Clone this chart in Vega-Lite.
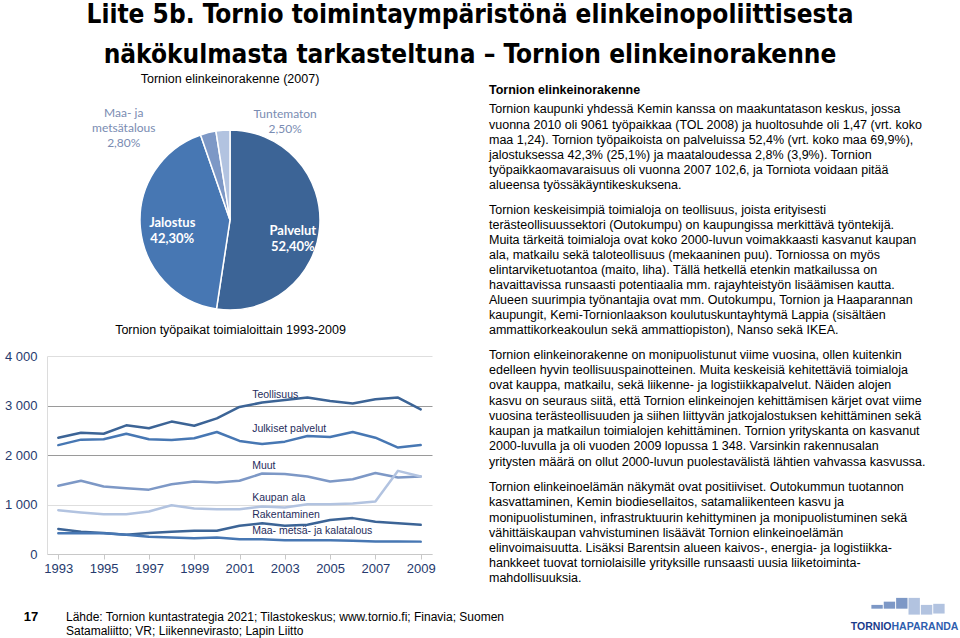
{
  "$schema": "https://vega.github.io/schema/vega-lite/v6.json",
  "padding": 0,
  "background": "white",
  "config": {
    "view": {"stroke": null},
    "font": "Liberation Sans",
    "text": {"font": "Liberation Sans", "color": "black"},
    "title": {"font": "Liberation Sans", "fontWeight": "normal", "color": "black", "subtitleFont": "Liberation Sans", "subtitleColor": "black"}
  },
  "datasets": {
    "title": [
      {"line": 0, "text": "Liite 5b. Tornio toimintaympäristönä elinkeinopoliittisesta"},
      {"line": 1, "text": "näkökulmasta tarkasteltuna – Tornion elinkeinorakenne"}
    ],
    "pie": [
      {"sector": "Palvelut", "share": 52.4, "ord": 1, "label": "Palvelut\n52,40%"},
      {"sector": "Jalostus", "share": 42.3, "ord": 2, "label": "Jalostus\n42,30%"},
      {"sector": "Maa- ja metsätalous", "share": 2.8, "ord": 3, "label": "Maa- ja\nmetsätalous\n2,80%"},
      {"sector": "Tuntematon", "share": 2.5, "ord": 4, "label": "Tuntematon\n2,50%"}
    ],
    "jobs": [
      {"series": "Teollisuus", "year": 1993, "value": 2350},
      {"series": "Teollisuus", "year": 1994, "value": 2450},
      {"series": "Teollisuus", "year": 1995, "value": 2430},
      {"series": "Teollisuus", "year": 1996, "value": 2600},
      {"series": "Teollisuus", "year": 1997, "value": 2540},
      {"series": "Teollisuus", "year": 1998, "value": 2675},
      {"series": "Teollisuus", "year": 1999, "value": 2590},
      {"series": "Teollisuus", "year": 2000, "value": 2740},
      {"series": "Teollisuus", "year": 2001, "value": 2970},
      {"series": "Teollisuus", "year": 2002, "value": 3060},
      {"series": "Teollisuus", "year": 2003, "value": 3110},
      {"series": "Teollisuus", "year": 2004, "value": 3160},
      {"series": "Teollisuus", "year": 2005, "value": 3090},
      {"series": "Teollisuus", "year": 2006, "value": 3040},
      {"series": "Teollisuus", "year": 2007, "value": 3125},
      {"series": "Teollisuus", "year": 2008, "value": 3160},
      {"series": "Teollisuus", "year": 2009, "value": 2920},
      {"series": "Julkiset palvelut", "year": 1993, "value": 2200},
      {"series": "Julkiset palvelut", "year": 1994, "value": 2310},
      {"series": "Julkiset palvelut", "year": 1995, "value": 2320},
      {"series": "Julkiset palvelut", "year": 1996, "value": 2430},
      {"series": "Julkiset palvelut", "year": 1997, "value": 2320},
      {"series": "Julkiset palvelut", "year": 1998, "value": 2305},
      {"series": "Julkiset palvelut", "year": 1999, "value": 2340},
      {"series": "Julkiset palvelut", "year": 2000, "value": 2465},
      {"series": "Julkiset palvelut", "year": 2001, "value": 2285},
      {"series": "Julkiset palvelut", "year": 2002, "value": 2220},
      {"series": "Julkiset palvelut", "year": 2003, "value": 2270},
      {"series": "Julkiset palvelut", "year": 2004, "value": 2385},
      {"series": "Julkiset palvelut", "year": 2005, "value": 2365},
      {"series": "Julkiset palvelut", "year": 2006, "value": 2465},
      {"series": "Julkiset palvelut", "year": 2007, "value": 2350},
      {"series": "Julkiset palvelut", "year": 2008, "value": 2150},
      {"series": "Julkiset palvelut", "year": 2009, "value": 2200},
      {"series": "Muut", "year": 1993, "value": 1380},
      {"series": "Muut", "year": 1994, "value": 1480},
      {"series": "Muut", "year": 1995, "value": 1365},
      {"series": "Muut", "year": 1996, "value": 1330},
      {"series": "Muut", "year": 1997, "value": 1300},
      {"series": "Muut", "year": 1998, "value": 1410},
      {"series": "Muut", "year": 1999, "value": 1465},
      {"series": "Muut", "year": 2000, "value": 1445},
      {"series": "Muut", "year": 2001, "value": 1480},
      {"series": "Muut", "year": 2002, "value": 1625},
      {"series": "Muut", "year": 2003, "value": 1615},
      {"series": "Muut", "year": 2004, "value": 1565},
      {"series": "Muut", "year": 2005, "value": 1465},
      {"series": "Muut", "year": 2006, "value": 1510},
      {"series": "Muut", "year": 2007, "value": 1635},
      {"series": "Muut", "year": 2008, "value": 1545},
      {"series": "Muut", "year": 2009, "value": 1565},
      {"series": "Kaupan ala", "year": 1993, "value": 885},
      {"series": "Kaupan ala", "year": 1994, "value": 840},
      {"series": "Kaupan ala", "year": 1995, "value": 805},
      {"series": "Kaupan ala", "year": 1996, "value": 805},
      {"series": "Kaupan ala", "year": 1997, "value": 860},
      {"series": "Kaupan ala", "year": 1998, "value": 985},
      {"series": "Kaupan ala", "year": 1999, "value": 920},
      {"series": "Kaupan ala", "year": 2000, "value": 905},
      {"series": "Kaupan ala", "year": 2001, "value": 905},
      {"series": "Kaupan ala", "year": 2002, "value": 960},
      {"series": "Kaupan ala", "year": 2003, "value": 940},
      {"series": "Kaupan ala", "year": 2004, "value": 1005},
      {"series": "Kaupan ala", "year": 2005, "value": 1005},
      {"series": "Kaupan ala", "year": 2006, "value": 1020},
      {"series": "Kaupan ala", "year": 2007, "value": 1060},
      {"series": "Kaupan ala", "year": 2008, "value": 1680},
      {"series": "Kaupan ala", "year": 2009, "value": 1565},
      {"series": "Rakentaminen", "year": 1993, "value": 505},
      {"series": "Rakentaminen", "year": 1994, "value": 450},
      {"series": "Rakentaminen", "year": 1995, "value": 425},
      {"series": "Rakentaminen", "year": 1996, "value": 390},
      {"series": "Rakentaminen", "year": 1997, "value": 425},
      {"series": "Rakentaminen", "year": 1998, "value": 450},
      {"series": "Rakentaminen", "year": 1999, "value": 470},
      {"series": "Rakentaminen", "year": 2000, "value": 470},
      {"series": "Rakentaminen", "year": 2001, "value": 570},
      {"series": "Rakentaminen", "year": 2002, "value": 620},
      {"series": "Rakentaminen", "year": 2003, "value": 570},
      {"series": "Rakentaminen", "year": 2004, "value": 590},
      {"series": "Rakentaminen", "year": 2005, "value": 685},
      {"series": "Rakentaminen", "year": 2006, "value": 725},
      {"series": "Rakentaminen", "year": 2007, "value": 650},
      {"series": "Rakentaminen", "year": 2008, "value": 620},
      {"series": "Rakentaminen", "year": 2009, "value": 590},
      {"series": "Maa- metsä- ja kalatalous", "year": 1993, "value": 420},
      {"series": "Maa- metsä- ja kalatalous", "year": 1994, "value": 420},
      {"series": "Maa- metsä- ja kalatalous", "year": 1995, "value": 420},
      {"series": "Maa- metsä- ja kalatalous", "year": 1996, "value": 390},
      {"series": "Maa- metsä- ja kalatalous", "year": 1997, "value": 350},
      {"series": "Maa- metsä- ja kalatalous", "year": 1998, "value": 335},
      {"series": "Maa- metsä- ja kalatalous", "year": 1999, "value": 320},
      {"series": "Maa- metsä- ja kalatalous", "year": 2000, "value": 335},
      {"series": "Maa- metsä- ja kalatalous", "year": 2001, "value": 300},
      {"series": "Maa- metsä- ja kalatalous", "year": 2002, "value": 300},
      {"series": "Maa- metsä- ja kalatalous", "year": 2003, "value": 280},
      {"series": "Maa- metsä- ja kalatalous", "year": 2004, "value": 280},
      {"series": "Maa- metsä- ja kalatalous", "year": 2005, "value": 280},
      {"series": "Maa- metsä- ja kalatalous", "year": 2006, "value": 270},
      {"series": "Maa- metsä- ja kalatalous", "year": 2007, "value": 255},
      {"series": "Maa- metsä- ja kalatalous", "year": 2008, "value": 255},
      {"series": "Maa- metsä- ja kalatalous", "year": 2009, "value": 250}
    ],
    "p1": [
      {"line": 2, "text": "vuonna 2010 oli 9061 työpaikkaa (TOL 2008) ja huoltosuhde oli 1,47 (vrt. koko"},
      {"line": 3, "text": "maa 1,24). Tornion työpaikoista on palveluissa 52,4% (vrt. koko maa 69,9%),"},
      {"line": 4, "text": "jalostuksessa 42,3% (25,1%) ja maataloudessa 2,8% (3,9%). Tornion"},
      {"line": 5, "text": "työpaikkaomavaraisuus oli vuonna 2007 102,6, ja Torniota voidaan pitää"},
      {"line": 6, "text": "alueensa työssäkäyntikeskuksena."}
    ],
    "p2": [
      {"line": 0, "text": "Tornion keskeisimpiä toimialoja on teollisuus, joista erityisesti"},
      {"line": 1, "text": "terästeollisuussektori (Outokumpu) on kaupungissa merkittävä työntekijä."},
      {"line": 2, "text": "Muita tärkeitä toimialoja ovat koko 2000-luvun voimakkaasti kasvanut kaupan"},
      {"line": 3, "text": "ala, matkailu sekä taloteollisuus (mekaaninen puu). Torniossa on myös"},
      {"line": 4, "text": "elintarviketuotantoa (maito, liha). Tällä hetkellä etenkin matkailussa on"},
      {"line": 5, "text": "havaittavissa runsaasti potentiaalia mm. rajayhteistyön lisäämisen kautta."},
      {"line": 6, "text": "Alueen suurimpia työnantajia ovat mm. Outokumpu, Tornion ja Haaparannan"},
      {"line": 7, "text": "kaupungit, Kemi-Tornionlaakson koulutuskuntayhtymä Lappia (sisältäen"},
      {"line": 8, "text": "ammattikorkeakoulun sekä ammattiopiston), Nanso sekä IKEA."}
    ],
    "p3": [
      {"line": 0, "text": "Tornion elinkeinorakenne on monipuolistunut viime vuosina, ollen kuitenkin"},
      {"line": 1, "text": "edelleen hyvin teollisuuspainotteinen. Muita keskeisiä kehitettäviä toimialoja"},
      {"line": 2, "text": "ovat kauppa, matkailu, sekä liikenne- ja logistiikkapalvelut. Näiden alojen"},
      {"line": 3, "text": "kasvu on seuraus siitä, että Tornion elinkeinojen kehittämisen kärjet ovat viime"},
      {"line": 4, "text": "vuosina terästeollisuuden ja siihen liittyvän jatkojalostuksen kehittäminen sekä"},
      {"line": 5, "text": "kaupan ja matkailun toimialojen kehittäminen. Tornion yrityskanta on kasvanut"},
      {"line": 6, "text": "2000-luvulla ja oli vuoden 2009 lopussa  1 348. Varsinkin rakennusalan"},
      {"line": 7, "text": "yritysten määrä on ollut 2000-luvun puolestavälistä lähtien vahvassa kasvussa."}
    ],
    "p4": [
      {"line": 0, "text": "Tornion elinkeinoelämän näkymät ovat positiiviset. Outokummun tuotannon"},
      {"line": 1, "text": "kasvattaminen, Kemin biodiesellaitos, satamaliikenteen kasvu ja"},
      {"line": 2, "text": "monipuolistuminen, infrastruktuurin kehittyminen ja monipuolistuminen sekä"},
      {"line": 3, "text": "vähittäiskaupan vahvistuminen lisäävät Tornion elinkeinoelämän"},
      {"line": 4, "text": "elinvoimaisuutta. Lisäksi Barentsin alueen kaivos-, energia- ja logistiikka-"},
      {"line": 5, "text": "hankkeet tuovat torniolaisille yrityksille runsaasti uusia liiketoiminta-"},
      {"line": 6, "text": "mahdollisuuksia."}
    ],
    "num": [{"text": "17"}],
    "foot": [
      {"text": "Lähde: Tornion kuntastrategia 2021; Tilastokeskus; www.tornio.fi; Finavia; Suomen\nSatamaliitto; VR; Liikennevirasto; Lapin Liitto"}
    ],
    "logo": [
      {"block": 1, "lo": 5.8, "hi": 6.5, "tone": "gold"},
      {"block": 2, "lo": 5.8, "hi": 7.1, "tone": "gold"},
      {"block": 3, "lo": 5.8, "hi": 7.8, "tone": "gold"},
      {"block": 4, "lo": 4.7, "hi": 7.8, "tone": "blue"},
      {"block": 5, "lo": 4.7, "hi": 6.5, "tone": "blue"},
      {"block": 6, "lo": 4.9, "hi": 6.7, "tone": "blue"}
    ]
  },
  "concat": [
    {
      "width": 846,
      "height": 72,
      "data": {"name": "title"},
      "mark": {"type": "text", "font": "DejaVu Sans Condensed, Liberation Sans Narrow, sans-serif", "fontWeight": "bold", "fontSize": 26, "align": "center", "baseline": "middle", "color": "black"},
      "encoding": {
        "y": {"field": "line", "type": "ordinal", "scale": {"padding": 0.4, "align": 0.47}, "axis": null},
        "text": {"field": "text"}
      }
    },
    {
      "concat": [
        {
          "concat": [
            {
              "width": 366,
              "height": 206,
              "title": {"text": "Tornion elinkeinorakenne (2007)", "fontSize": 12.5, "offset": 19, "anchor": "middle"},
              "data": {"name": "pie"},
              "encoding": {
                "theta": {"field": "share", "type": "quantitative", "stack": true},
                "order": {"field": "ord", "type": "quantitative"}
              },
              "layer": [
                {
                  "mark": {"type": "arc", "outerRadius": 90, "stroke": "white", "strokeWidth": 1.5},
                  "encoding": {
                    "color": {"field": "sector", "type": "nominal", "scale": {"domain": ["Palvelut", "Jalostus", "Maa- ja metsätalous", "Tuntematon"], "range": ["#3C6496", "#4777B3", "#7D98C6", "#B2C3E0"]}, "legend": null}
                  }
                },
                {
                  "mark": {"type": "text", "radius": 68, "dx": -5, "dy": 6, "lineBreak": "\n", "lineHeight": 16, "font": "Lato", "fontWeight": "bold", "fontSize": 13, "color": "white", "align": "center", "baseline": "middle"},
                  "encoding": {"text": {"condition": {"test": "datum.sector == 'Palvelut'", "field": "label"}, "value": ""}}
                },
                {
                  "mark": {"type": "text", "radius": 68, "dx": 10, "dy": -3, "lineBreak": "\n", "lineHeight": 16, "font": "Lato", "fontWeight": "bold", "fontSize": 13, "color": "white", "align": "center", "baseline": "middle"},
                  "encoding": {"text": {"condition": {"test": "datum.sector == 'Jalostus'", "field": "label"}, "value": ""}}
                },
                {
                  "mark": {"type": "text", "radius": 100, "dx": -82, "dy": -10, "lineBreak": "\n", "lineHeight": 15, "font": "Lato", "fontSize": 12, "color": "#7A8CB2", "align": "center", "baseline": "middle"},
                  "encoding": {"text": {"condition": {"test": "datum.sector == 'Maa- ja metsätalous'", "field": "label"}, "value": ""}}
                },
                {
                  "mark": {"type": "text", "radius": 100, "dx": 63, "dy": -6.5, "lineBreak": "\n", "lineHeight": 15, "font": "Lato", "fontSize": 12, "color": "#7A8CB2", "align": "center", "baseline": "middle"},
                  "encoding": {"text": {"condition": {"test": "datum.sector == 'Tuntematon'", "field": "label"}, "value": ""}}
                }
              ]
            },
            {
              "width": 385,
              "height": 198,
              "title": {"text": "Tornion työpaikat toimialoittain 1993-2009", "fontSize": 12.5, "offset": 14, "anchor": "middle", "dx": -9},
              "data": {"name": "jobs"},
              "encoding": {
                "x": {
                  "field": "year", "type": "quantitative",
                  "scale": {"domain": [1992.5, 2009.5], "nice": false, "zero": false},
                  "axis": {"values": [1993, 1995, 1997, 1999, 2001, 2003, 2005, 2007, 2009], "format": "d", "title": null, "grid": false, "labelFontSize": 13, "labelColor": "#263A6E", "labelPadding": 3, "domainColor": "#c8c8c8", "tickColor": "#c8c8c8", "tickSize": 5, "labelFlush": false}
                },
                "y": {
                  "field": "value", "type": "quantitative",
                  "scale": {"domain": [0, 4000], "nice": false},
                  "axis": {"values": [0, 1000, 2000, 3000, 4000], "labelExpr": "datum.value == 0 ? '0' : (datum.value / 1000) + ' 000'", "title": null, "labelFontSize": 13, "labelColor": "#263A6E", "labelPadding": 10, "ticks": false, "domainColor": "#dcdcdc", "grid": true, "gridColor": {"condition": {"test": "datum.value == 2000 || datum.value == 3000", "value": "#9a9a9a"}, "value": "#dedede"}, "minExtent": 47, "maxExtent": 47}
                }
              },
              "layer": [
                {
                  "mark": {"type": "line", "strokeWidth": 2.5, "strokeJoin": "round", "strokeCap": "round"},
                  "encoding": {
                    "color": {"field": "series", "type": "nominal", "scale": {"domain": ["Teollisuus", "Julkiset palvelut", "Muut", "Kaupan ala", "Rakentaminen", "Maa- metsä- ja kalatalous"], "range": ["#1A2869", "#878CAF", "#B7BBD3", "#5B6092", "#1E2F70", "#15225E"]}, "legend": null}
                  }
                },
                {
                  "transform": [{"filter": "datum.year == 2002 && datum.series != 'Julkiset palvelut'"}],
                  "mark": {"type": "text", "align": "left", "baseline": "middle", "dx": -10, "dy": -8, "fontSize": 10.5, "color": "#1F2D5C"},
                  "encoding": {"text": {"field": "series"}}
                },
                {
                  "transform": [{"filter": "datum.year == 2002 && datum.series == 'Julkiset palvelut'"}],
                  "mark": {"type": "text", "align": "left", "baseline": "middle", "dx": -10, "dy": -15, "fontSize": 10.5, "color": "#1F2D5C"},
                  "encoding": {"text": {"field": "series"}}
                }
              ]
            }
          ],
          "columns": 1,
          "spacing": 0
        },
        {
          "concat": [
            {
              "width": 450,
              "height": 76,
              "title": {"text": "Tornion elinkeinorakenne", "subtitle": "Tornion kaupunki yhdessä Kemin kanssa on maakuntatason keskus, jossa", "anchor": "start", "fontWeight": "bold", "fontSize": 12.5, "subtitleFontSize": 12.5, "subtitlePadding": 6.5, "offset": 1.5},
              "data": {"name": "p1"},
              "mark": {"type": "text", "align": "left", "baseline": "middle", "fontSize": 12.5},
              "encoding": {
                "x": {"datum": 0, "type": "quantitative", "scale": {"domain": [0, 1]}, "axis": null},
                "y": {"field": "line", "type": "ordinal", "scale": {"padding": 0.5}, "axis": null},
                "text": {"field": "text"}
              }
            },
            {
              "width": 450,
              "height": 135,
              "data": {"name": "p2"},
              "mark": {"type": "text", "align": "left", "baseline": "middle", "fontSize": 12.5},
              "encoding": {
                "x": {"datum": 0, "type": "quantitative", "scale": {"domain": [0, 1]}, "axis": null},
                "y": {"field": "line", "type": "ordinal", "scale": {"padding": 0.5}, "axis": null},
                "text": {"field": "text"}
              }
            },
            {
              "width": 450,
              "height": 122.4,
              "data": {"name": "p3"},
              "mark": {"type": "text", "align": "left", "baseline": "middle", "fontSize": 12.5},
              "encoding": {
                "x": {"datum": 0, "type": "quantitative", "scale": {"domain": [0, 1]}, "axis": null},
                "y": {"field": "line", "type": "ordinal", "scale": {"padding": 0.5}, "axis": null},
                "text": {"field": "text"}
              }
            },
            {
              "width": 450,
              "height": 106.4,
              "data": {"name": "p4"},
              "mark": {"type": "text", "align": "left", "baseline": "middle", "fontSize": 12.5},
              "encoding": {
                "x": {"datum": 0, "type": "quantitative", "scale": {"domain": [0, 1]}, "axis": null},
                "y": {"field": "line", "type": "ordinal", "scale": {"padding": 0.5}, "axis": null},
                "text": {"field": "text"}
              }
            }
          ],
          "columns": 1,
          "spacing": 9.5
        }
      ],
      "columns": 2,
      "spacing": 53
    },
    {
      "concat": [
        {
          "width": 1,
          "height": 54,
          "data": {"name": "num"},
          "mark": {"type": "text", "fontSize": 13, "fontWeight": "bold", "baseline": "middle", "align": "center", "dx": -16.5, "dy": 3.5},
          "encoding": {"text": {"field": "text"}}
        },
        {
          "width": 766,
          "height": 54,
          "data": {"name": "foot"},
          "mark": {"type": "text", "fontSize": 12, "baseline": "middle", "align": "left", "lineBreak": "\n", "lineHeight": 14.5, "dy": 3.5},
          "encoding": {
            "x": {"datum": 0, "type": "quantitative", "scale": {"domain": [0, 1]}, "axis": null},
            "text": {"field": "text"}
          }
        },
        {
          "width": 98,
          "height": 54,
          "data": {"name": "logo"},
          "layer": [
            {
              "mark": {"type": "bar"},
              "encoding": {
                "x": {"field": "block", "type": "ordinal", "scale": {"paddingInner": 0.08, "paddingOuter": 1}, "axis": null},
                "y": {"field": "lo", "type": "quantitative", "scale": {"domain": [0, 10]}, "axis": null},
                "y2": {"field": "hi"},
                "color": {"field": "tone", "type": "nominal", "scale": {"domain": ["gold", "blue"], "range": ["#F4C01E", "#1F4E9E"]}, "legend": null}
              }
            },
            {
              "data": {"values": [{"word": "TORNIO"}]},
              "mark": {"type": "text", "align": "right", "baseline": "middle", "dx": -16.5, "dy": 14, "fontSize": 10.5, "fontWeight": "bold", "color": "#1A3C8C"},
              "encoding": {"text": {"field": "word"}}
            },
            {
              "data": {"values": [{"word": "HAPARANDA"}]},
              "mark": {"type": "text", "align": "left", "baseline": "middle", "dx": -16.5, "dy": 14, "fontSize": 10.5, "fontWeight": "bold", "color": "#2F5EAE"},
              "encoding": {"text": {"field": "word"}}
            }
          ]
        }
      ],
      "columns": 3,
      "spacing": 18
    }
  ],
  "columns": 1,
  "spacing": 0
}
